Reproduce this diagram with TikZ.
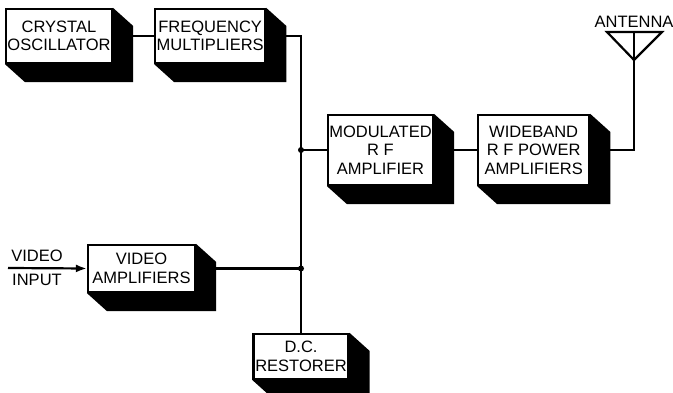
\documentclass[tikz,border=0pt]{standalone}
\usepackage{fontspec}
\setmainfont{Liberation Sans}
\usepackage{tikz}
\usetikzlibrary{arrows.meta,positioning,calc,backgrounds}
\newcommand{\blockshadow}[1]{%
  \fill (#1.north east) -- ([shift={(20,18)}]#1.north east)
    -- ([shift={(20,18)}]#1.south east) -- ([shift={(20,18)}]#1.south west)
    -- (#1.south west) -- cycle;}
\tikzset{
  blockbox/.style={draw=black, line width=2.2pt, fill=white, align=center, inner sep=0pt, font=\fontsize{16.5}{18.5}\selectfont},
  tvline/.style={line width=2.2pt},
  tvarrow/.style={-{Latex[length=11pt,width=8pt]}, line width=2.2pt},
  tvlabel/.style={font=\fontsize{16.5}{18.5}\selectfont, inner sep=0pt},
  tvdot/.style={circle, fill=black, inner sep=0pt, minimum size=6pt}
}
\begin{document}
\begin{tikzpicture}[x=1pt,y=-1pt]
  \clip (0,0) rectangle (673,393);
  \node[blockbox, minimum width=106pt, minimum height=54pt] (osc) at (59,36) {CRYSTAL\\OSCILLATOR};
  \node[blockbox, minimum width=110pt, minimum height=54pt, right=41pt of osc] (mult) {FREQUENCY\\MULTIPLIERS};
  \node[blockbox, minimum width=105pt, minimum height=70pt] (mod) at (380.5,150) {MODULATED\\R F\\AMPLIFIER};
  \node[blockbox, minimum width=111pt, minimum height=70pt, right=43pt of mod] (wide) {WIDEBAND\\R F POWER\\AMPLIFIERS};
  \node[blockbox, minimum width=107pt, minimum height=47pt] (vamp) at (141.5,268.5) {VIDEO\\AMPLIFIERS};
  \node[blockbox, minimum width=95pt, minimum height=45pt] (dcr) at (301,356.5) {D.C.\\RESTORER};
  \begin{scope}[on background layer]
    \blockshadow{osc}
    \blockshadow{mult}
    \blockshadow{mod}
    \blockshadow{wide}
    \blockshadow{vamp}
    \blockshadow{dcr}
  \end{scope}
  % antenna
  \coordinate (ant) at (634,60);
  \coordinate (antl) at (607,32);
  \coordinate (antr) at (662,32);
  \draw[tvline, line join=miter] (antl) -- (antr) -- (ant) -- cycle;
  \draw[tvline] (ant) -- (ant |- antl);
  \node[tvlabel, above=4pt of ant |- antl] (antlab) {ANTENNA};
  % video input
  \coordinate (vin) at (8,268);
  \node[tvlabel, anchor=south] (vidlab) at (37,262) {VIDEO};
  \node[tvlabel, anchor=north] (inlab) at (37,274) {INPUT};
  \draw[tvarrow] (vin) -- (vamp.west);
  % connections
  \draw[tvline] (osc.east) -- (mult.west);
  \draw[tvline] (mult.east) -| (dcr.north);
  \coordinate (jmod) at (mod.west -| dcr.north);
  \coordinate (jvid) at (vamp.east -| dcr.north);
  \draw[tvline] (jmod) -- (mod.west);
  \draw[tvline] (vamp.east) -- (jvid);
  \node[tvdot] at (jmod) {};
  \node[tvdot] at (jvid) {};
  \draw[tvline] (mod.east) -- (wide.west);
  \draw[tvline] (wide.east) -| (ant);
\end{tikzpicture}
\end{document}
